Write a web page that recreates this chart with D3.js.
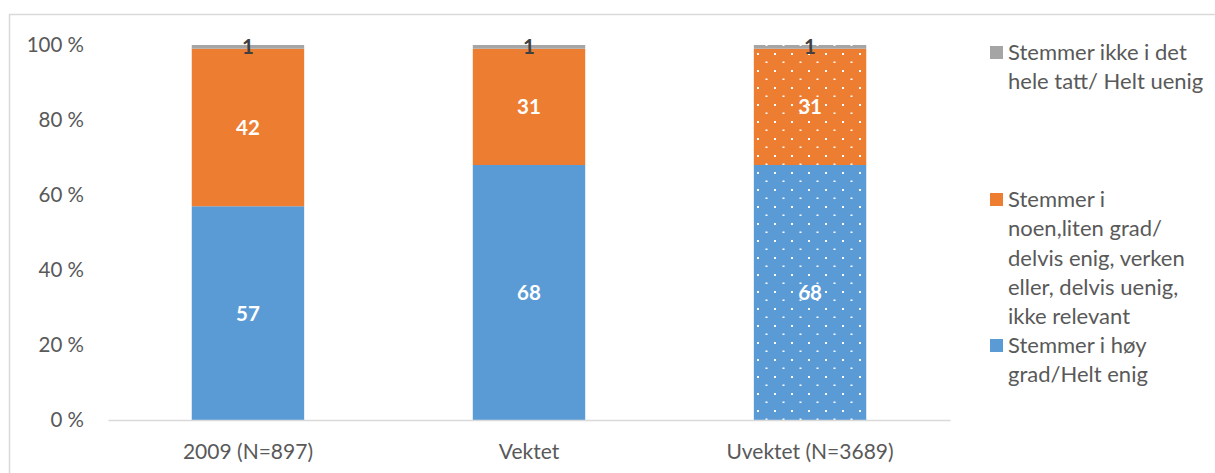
<!DOCTYPE html>
<html>
<head>
<meta charset="utf-8">
<script src="https://cdn.jsdelivr.net/npm/d3@7"></script>
<style>
    body { margin: 0; background: #fff; }
    text { font-family: Lato, "Open Sans", sans-serif; }
</style>
</head>
<body>
<div id="chart-area"></div>
<script>
const categories = ["2009 (N=897)", "Vektet", "Uvektet (N=3689)"]
const hoyGrad = [57, 68, 68]
const noenGrad = [42, 31, 31]
const ikkeEnig = [1, 1, 1]
const yTicks = [0, 20, 40, 60, 80, 100]
const seriesKeys = ["hoy", "noen", "ikke"]
const legendLines = [
    ["Stemmer ikke i det", "hele tatt/ Helt uenig"],
    ["Stemmer i", "noen,liten grad/", "delvis enig, verken", "eller, delvis uenig,", "ikke relevant"],
    ["Stemmer i høy", "grad/Helt enig"]
]

const WIDTH = 1215
const HEIGHT = 473
const PLOT = {LEFT: 108, RIGHT: 950, TOP: 45, BOTTOM: 420}
const COLORS = {hoy: "#5b9bd5", noen: "#ed7d31", ikke: "#a5a5a5"}

const svg = d3.select("#chart-area").append("svg")
    .attr("width", WIDTH)
    .attr("height", HEIGHT)

// frame (only left and top edges are visible)
svg.append("path")
    .attr("d", `M9.5,${HEIGHT} V14.5 H${WIDTH}`)
    .attr("fill", "none")
    .attr("stroke", "#d9d9d9")
    .attr("stroke-width", 1.5)

// dotted pattern for the unweighted bar
const defs = svg.append("defs")
const pat = defs.append("pattern")
    .attr("id", "dots")
    .attr("patternUnits", "userSpaceOnUse")
    .attr("x", 757).attr("y", 291)
    .attr("width", 17).attr("height", 17)
pat.append("rect").attr("x", 0).attr("y", 0).attr("width", 2).attr("height", 2).attr("fill", "#fff")
pat.append("rect").attr("x", 8.5).attr("y", 8.5).attr("width", 2).attr("height", 1.5).attr("fill", "#fff")

const data = categories.map((c, i) => ({cat: c, hoy: hoyGrad[i], noen: noenGrad[i], ikke: ikkeEnig[i]}))
const stacked = d3.stack().keys(seriesKeys)(data)

const x = d3.scaleBand().domain(categories).range([PLOT.LEFT, PLOT.RIGHT])
    .paddingInner(0.6)
    .paddingOuter(0.298)
const y = d3.scaleLinear().domain([0, 100]).range([PLOT.BOTTOM, PLOT.TOP])

// y axis labels
const yAxisCall = d3.axisLeft(y).tickValues(yTicks).tickSize(0).tickPadding(0)
    .tickFormat(d => d + " %")
const yAxis = svg.append("g")
    .attr("transform", "translate(84,0)")
    .call(yAxisCall)
yAxis.select(".domain").remove()
yAxis.selectAll("text")
    .attr("font-family", "Lato, sans-serif")
    .attr("font-size", "20.5px")
    .attr("fill", "#595959")

// bars
stacked.forEach(layer => {
    const g = svg.append("g")
    g.selectAll("rect").data(layer).enter().append("rect")
        .attr("x", d => x(d.data.cat))
        .attr("y", d => y(d[1]))
        .attr("width", x.bandwidth())
        .attr("height", d => y(d[0]) - y(d[1]))
        .attr("fill", COLORS[layer.key])
    g.selectAll("rect.dot").data(layer.filter((d, i) => i === 2)).enter().append("rect")
        .attr("class", "dot")
        .attr("x", d => x(d.data.cat))
        .attr("y", d => y(d[1]))
        .attr("width", x.bandwidth())
        .attr("height", d => y(d[0]) - y(d[1]))
        .attr("fill", "url(#dots)")
})

// x axis
const xAxisCall = d3.axisBottom(x).tickSize(0).tickPadding(0)
const xAxis = svg.append("g")
    .attr("transform", `translate(0, ${PLOT.BOTTOM})`)
    .call(xAxisCall)
xAxis.select(".domain")
    .attr("stroke", "#d9d9d9")
    .attr("stroke-width", 1.5)
xAxis.selectAll("text")
    .attr("y", 39)
    .attr("dy", 0)
    .attr("font-family", "Lato, sans-serif")
    .attr("font-size", "21px")
    .attr("fill", "#595959")

// value labels
stacked.forEach(layer => {
    svg.append("g").selectAll("text").data(layer).enter().append("text")
        .attr("x", d => x(d.data.cat) + x.bandwidth() / 2)
        .attr("y", d => (y(d[0]) + y(d[1])) / 2)
        .attr("dy", "0.36em")
        .attr("text-anchor", "middle")
        .attr("font-size", "20.5px")
        .attr("font-weight", "bold")
        .attr("fill", layer.key === "ikke" ? "#404040" : "#fff")
        .text(d => d[1] - d[0])
})

// legend
const legendKeys = ["ikke", "noen", "hoy"]
const legendTop = [60, 207, 353]
legendKeys.forEach((k, i) => {
    const g = svg.append("g")
    g.append("rect")
        .attr("x", 990)
        .attr("y", legendTop[i] - 14)
        .attr("width", 13)
        .attr("height", 13)
        .attr("fill", COLORS[k])
    const t = g.append("text")
        .attr("x", 1008)
        .attr("y", legendTop[i])
        .attr("font-size", "22px")
        .attr("fill", "#595959")
    legendLines[i].forEach((line, j) => {
        t.append("tspan")
            .attr("x", 1008)
            .attr("y", legendTop[i] + j * 29.3)
            .text(line)
    })
})
</script>
</body>
</html>
